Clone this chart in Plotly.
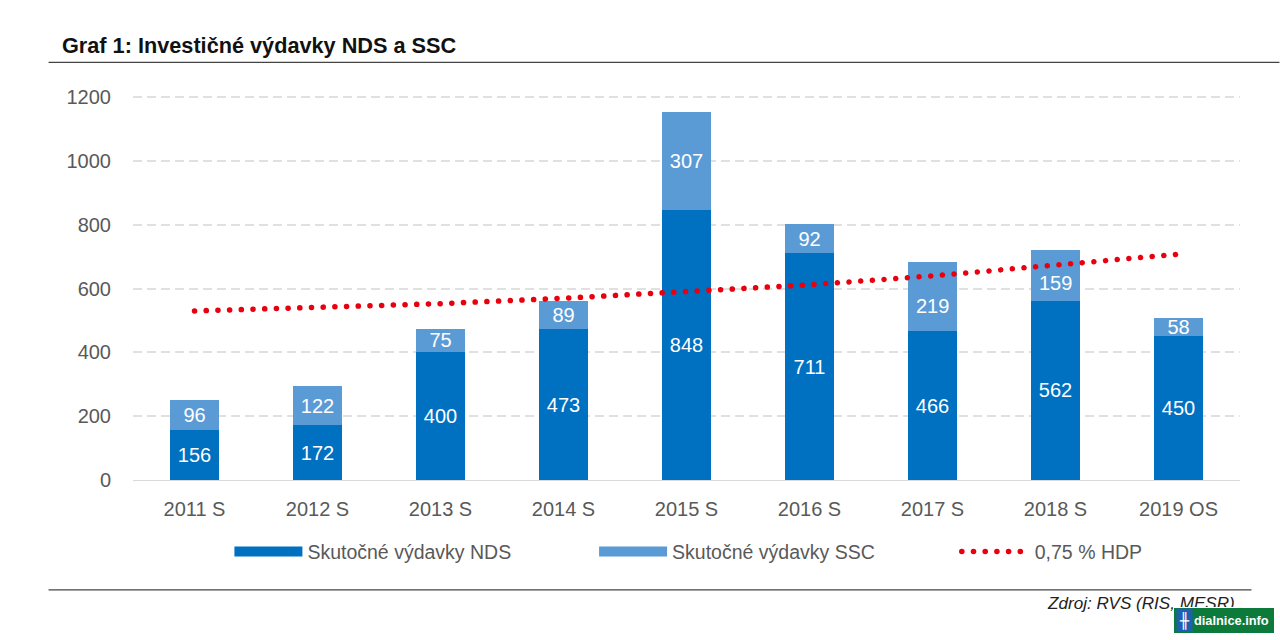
import plotly.graph_objects as go

categories = ["2011 S", "2012 S", "2013 S", "2014 S", "2015 S", "2016 S", "2017 S", "2018 S", "2019 OS"]
nds_values = [156, 172, 400, 473, 848, 711, 466, 562, 450]
ssc_values = [96, 122, 75, 89, 307, 92, 219, 159, 58]
hdp_values = [530, 541, 553, 570, 592, 612, 640, 674, 708]
y_ticks = [0, 200, 400, 600, 800, 1000, 1200]
# SSC labels moved down inside their bars, clear of the dotted line (pixels)
ssc_label_shift = [0, 0, 0, 0, 0, 0, -10, -8, 0]

NDS_NAME = "Skutočné výdavky NDS"
SSC_NAME = "Skutočné výdavky SSC"
HDP_NAME = "0,75 % HDP"
TITLE = "Graf 1: Investičné výdavky NDS a SSC"
SOURCE = "Zdroj: RVS (RIS, MESR)"
WATERMARK = "dialnice.info"

C_NDS = "#0070C0"
C_SSC = "#5B9BD5"
C_RED = "#E8000F"
C_TEXT = "#595959"
FONT = "Liberation Sans"
W, H = 1280, 640
L, R, T, B = 132.5, 1240.5, 95.72, 480
Y_TOP = 1204
DOT = "0.1px,11.6px"


def px(x):
    return (x - L) / (R - L)


def py(y):
    return (B - y) / (B - T)


def legend_at(x):
    return dict(orientation="h", x=px(x), y=py(552), xanchor="left", yanchor="middle", itemwidth=68,
                font=dict(size=19.5, color=C_TEXT), bgcolor="rgba(0,0,0,0)")


bar_font = dict(color="white", size=20, family=FONT)
ssc_text = [str(v) if s == 0 else "" for v, s in zip(ssc_values, ssc_label_shift)]

fig = go.Figure()
for name, vals, col, txt in [(NDS_NAME, nds_values, C_NDS, [str(v) for v in nds_values]),
                             (SSC_NAME, ssc_values, C_SSC, ssc_text)]:
    fig.add_bar(x=categories, y=vals, name=name, marker=dict(color=col, line_width=0),
                text=txt, textposition="inside", insidetextanchor="middle", textangle=0,
                constraintext="none", insidetextfont=bar_font,
                showlegend=False, hoverinfo="skip")
fig.add_scatter(x=categories, y=hdp_values, mode="lines", showlegend=False,
                line=dict(color=C_RED, width=5.5, dash=DOT), hoverinfo="skip")
# legend-only entries so the swatches have the long flat shape of the original
fig.add_scatter(x=[None], y=[None], mode="lines", name=NDS_NAME, legend="legend",
                line=dict(color=C_NDS, width=14))
fig.add_scatter(x=[None], y=[None], mode="lines", name=SSC_NAME, legend="legend2",
                line=dict(color=C_SSC, width=14))
fig.add_scatter(x=[None], y=[None], mode="lines", name=HDP_NAME, legend="legend3",
                line=dict(color=C_RED, width=5.5, dash=DOT))

shapes = [
    dict(type="line", xref="paper", yref="paper", x0=px(48), x1=px(1280), y0=py(62), y1=py(62),
         line=dict(color="#444444", width=1.2)),
    dict(type="line", xref="paper", yref="paper", x0=px(48), x1=px(1252), y0=py(590), y1=py(590),
         line=dict(color="#444444", width=1.2)),
]
annotations = [
    dict(text=str(v), x=c, y=n + v / 2, xref="x", yref="y", yshift=s, showarrow=False, font=bar_font)
    for c, n, v, s in zip(categories, nds_values, ssc_values, ssc_label_shift) if s != 0
] + [
    dict(text="<i>" + SOURCE + "</i>", xref="paper", yref="paper", x=px(1237), y=py(604), xanchor="right",
         yanchor="middle", showarrow=False, font=dict(family=FONT, size=17.1, color="#222222")),
    dict(text=" ", xref="paper", yref="paper", x=px(1224), y=py(620.5), xanchor="center", yanchor="middle",
         showarrow=False, width=100, height=25, bgcolor="#0B7A3B", bordercolor="#FFFFFF", borderwidth=1,
         borderpad=0, font=dict(family=FONT, size=12, color="white")),
    dict(text="<b>" + WATERMARK + "</b>", xref="paper", yref="paper", x=px(1272), y=py(620.5),
         xanchor="right", yanchor="middle", showarrow=False, font=dict(family=FONT, size=12.8, color="white")),
    dict(text="<b>╫</b>", xref="paper", yref="paper", x=px(1184.5), y=py(620.5), xanchor="center", yanchor="middle",
         showarrow=False, width=13, height=20, bgcolor="#1F5FAE", font=dict(family="DejaVu Sans Mono", size=15, color="white")),
]

fig.update_layout(
    width=W, height=H, autosize=False, barmode="stack", bargap=0.595,
    margin=dict(l=L, r=W - R, t=T, b=H - B, pad=0),
    plot_bgcolor="white", paper_bgcolor="white", font=dict(family=FONT, color=C_TEXT),
    title=dict(text="<b>" + TITLE + "</b>", xref="container", yref="container", x=62 / W, xanchor="left",
               y=1 - 45 / H, yanchor="middle", font=dict(family=FONT, size=21.7, color="#111111")),
    xaxis=dict(type="category", categoryorder="array", categoryarray=categories, range=[-0.5, 8.5],
               showgrid=False, showline=True, linecolor="#D9D9D9", linewidth=1, ticks="",
               tickfont=dict(size=20, color=C_TEXT), ticklabelstandoff=11, zeroline=False),
    yaxis=dict(range=[0, Y_TOP], tickvals=y_ticks, showgrid=True, gridcolor="#E0E0E0", griddash="9px,5px",
               gridwidth=2, zeroline=False, showline=False, ticks="", tickfont=dict(size=20, color=C_TEXT),
               ticklabelstandoff=21),
    legend=legend_at(229), legend2=legend_at(594), legend3=legend_at(957),
    shapes=shapes, annotations=annotations,
)

post = """
document.body.style.margin='0';
document.querySelectorAll('.js-line').forEach(function(p){
  if (p.style.strokeDasharray && p.style.strokeDasharray !== 'none') {p.style.strokeLinecap='round';}
});
"""
fig.write_html("out.html", post_script=post, config={"displayModeBar": False})
